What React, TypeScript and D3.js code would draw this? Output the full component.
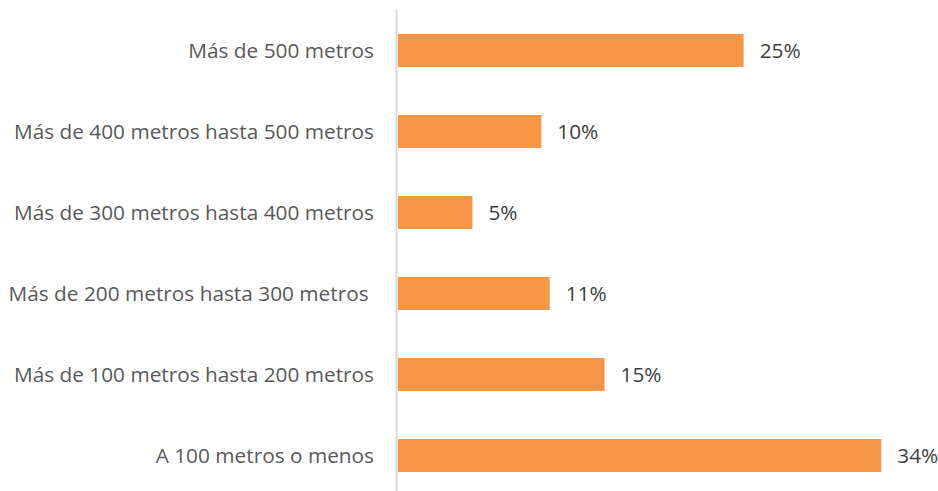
import React from "react";
import * as d3 from "d3";

const categories = [
  "Más de 500 metros",
  "Más de 400 metros hasta 500 metros",
  "Más de 300 metros hasta 400 metros",
  "Más de 200 metros hasta 300 metros ",
  "Más de 100 metros hasta 200 metros",
  "A 100 metros o menos",
];
const values = [24.6, 10.2, 5.3, 10.8, 14.7, 34.4];
const valueLabels = ["25%", "10%", "5%", "11%", "15%", "34%"];

const W = 938;
const H = 491;
const FONT = "'Open Sans', Lato, sans-serif";
const FS = 20.8;

export default function App() {
  const y = d3
    .scaleBand<string>()
    .domain(categories)
    .range([10, 496])
    .paddingInner(0.593)
    .paddingOuter(0.2965);
  const x = d3.scaleLinear().domain([0, 40]).range([398, 398 + 14.05 * 40]);

  return (
    <svg
      width={W}
      height={H}
      style={{ position: "absolute", left: 0, top: 0, background: "#fff" }}
    >
      {categories.map((c, i) => {
        const yy = y(c) as number;
        const bw = y.bandwidth();
        return (
          <g key={c}>
            <rect
              x={x(0)}
              y={yy}
              width={x(values[i]) - x(0)}
              height={bw}
              fill="#F79646"
            />
            <text
              x={x(values[i]) + 16}
              y={yy + bw / 2}
              dy="0.36em"
              fontFamily={FONT}
              fontSize={FS}
              fill="#404040"
            >
              {valueLabels[i]}
            </text>
            <text
              x={374}
              y={yy + bw / 2}
              dy="0.36em"
              textAnchor="end"
              fontFamily={FONT}
              fontSize={FS}
              fill="#595959"
              style={{ whiteSpace: "pre" }}
            >
              {c}
            </text>
          </g>
        );
      })}
      <line x1={396.5} x2={396.5} y1={10} y2={H} stroke="#D9D9D9" strokeWidth={2} />
    </svg>
  );
}
